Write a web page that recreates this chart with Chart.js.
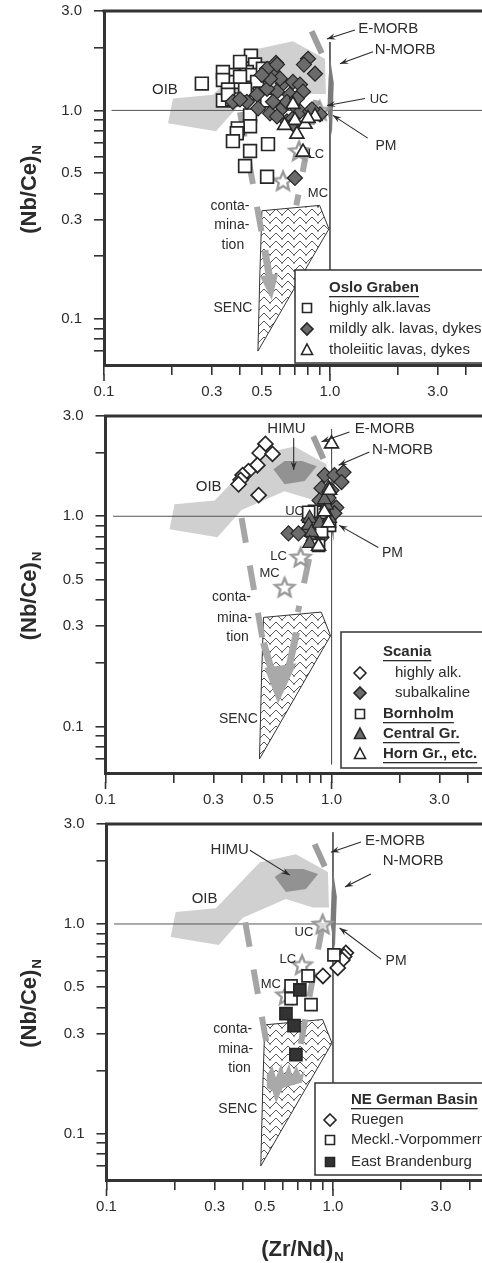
<!DOCTYPE html>
<html>
<head>
<meta charset="utf-8">
<script src="https://cdn.jsdelivr.net/npm/chart.js@4.4.0/dist/chart.umd.min.js"></script>
<style>
html, body { margin: 0; padding: 0; background: #fff; }
#wrap { position: relative; width: 482px; height: 1263px; overflow: hidden; }
canvas { position: absolute; left: 0; }
</style>
</head>
<body>
<div id="wrap">
  <canvas id="osloChart" width="482" height="405" style="top:0px"></canvas>
  <canvas id="scaniaChart" width="482" height="408" style="top:405px"></canvas>
  <canvas id="germanChart" width="482" height="450" style="top:813px"></canvas>
</div>
<script>
// axis ticks
const xTicks = [0.1, 0.2, 0.3, 0.4, 0.5, 0.6, 0.7, 0.8, 0.9, 1, 2, 3, 4];
const yTicks = [0.07, 0.08, 0.09, 0.1, 0.2, 0.3, 0.4, 0.5, 0.6, 0.7, 0.8, 0.9, 1, 2, 3];
const xTickLabels = [0.1, 0.3, 0.5, 1, 3];
const yTickLabels = [0.1, 0.3, 0.5, 1, 3];

// reference fields, x = (Zr/Nd)N, y = (Nb/Ce)N
const oibField = [[0.192, 0.867], [0.202, 1.14], [0.304, 1.19], [0.476, 1.97], [0.686, 2.15], [0.95, 1.77],
  [0.96, 1.2], [0.816, 1.2], [0.619, 1.315], [0.40, 1.07], [0.313, 0.794]];
const himuField = [[0.553, 1.675], [0.62, 1.83], [0.74, 1.83], [0.86, 1.73], [0.76, 1.47], [0.62, 1.42]];
const nMorbField = [[1.0, 1.8], [1.04, 1.35], [1.02, 0.76], [0.975, 1.0], [0.985, 1.4]];
const eMorbBar = [[0.83, 2.4], [0.92, 1.88]];
const sencField = [[0.50, 0.33], [0.90, 0.35], [0.99, 0.27], [0.48, 0.07], [0.49, 0.17]];
const crustStars = [[0.9, 1.0], [0.73, 0.64], [0.62, 0.46]]; // UC, LC, MC
const unityH = [[0.108, 1], [6, 1]];

// Oslo Graben
const osloHighlyAlk = [[0.271, 1.345], [0.447, 1.83], [0.466, 1.66], [0.372, 1.48], [0.372, 1.37], [0.429, 1.53],
  [0.452, 1.48], [0.476, 1.37], [0.505, 1.585], [0.527, 1.48], [0.336, 1.53], [0.336, 1.40], [0.40, 1.71],
  [0.421, 1.26], [0.49, 1.205], [0.336, 1.116], [0.369, 1.13], [0.527, 1.116], [0.443, 0.947], [0.443, 0.839],
  [0.391, 0.82], [0.387, 0.777], [0.372, 0.712], [0.532, 0.689], [0.443, 0.638], [0.421, 0.541], [0.527, 0.48],
  [0.40, 1.45], [0.354, 1.26], [0.354, 1.19]];
const osloMildlyAlk = [[0.577, 1.69], [0.80, 1.77], [0.767, 1.66], [0.859, 1.50], [0.56, 1.53], [0.619, 1.345],
  [0.686, 1.37], [0.737, 1.33], [0.76, 1.23], [0.665, 1.19], [0.583, 1.23], [0.527, 1.27], [0.476, 1.19],
  [0.429, 1.10], [0.372, 1.10], [0.40, 1.13], [0.481, 1.022], [0.543, 0.968], [0.583, 0.936], [0.645, 0.886],
  [0.686, 0.916], [0.737, 0.989], [0.816, 0.989], [0.903, 0.957], [0.619, 1.033], [0.686, 1.068], [0.645, 1.10],
  [0.56, 1.10], [0.714, 1.14], [0.601, 1.42], [0.543, 1.42], [0.527, 1.585], [0.50, 1.48], [0.583, 1.66],
  [0.686, 0.858], [0.833, 1.011], [0.70, 0.474]];
const osloTholeiitic = [[0.686, 1.068], [0.70, 0.896], [0.776, 0.858], [0.859, 0.936], [0.714, 0.769],
  [0.76, 0.631], [0.80, 0.916], [0.63, 0.848]];
const osloContam = [[[0.40, 0.98], [0.505, 0.24]], [[0.87, 1.12], [0.71, 0.35]]];
const osloShafts = [[[0.515, 0.213], [0.545, 0.15]]];
const osloHead = [[0.49, 0.16], [0.59, 0.165], [0.553, 0.123]];
const osloUnityV = [[1, 2.13], [1, 0.065]];

// Scania, Bornholm, Central Gr., Horn Gr.
const scaniaHighlyAlk = [[0.51, 2.21], [0.481, 2.0], [0.548, 1.98], [0.47, 1.75], [0.429, 1.64], [0.404, 1.57],
  [0.396, 1.49], [0.388, 1.42], [0.476, 1.26]];
const scaniaSubalk = [[0.932, 1.57], [1.03, 1.57], [1.13, 1.62], [1.107, 1.455], [0.903, 1.36], [1.0, 1.33],
  [0.885, 1.19], [0.97, 1.22], [1.05, 1.10], [1.03, 1.034], [0.84, 0.978], [0.792, 0.957], [0.903, 1.068],
  [0.833, 0.886], [0.776, 0.857], [0.645, 0.829], [0.714, 0.829], [0.903, 0.794], [0.833, 0.768], [0.932, 0.886],
  [0.876, 0.829]];
const bornholm = [[0.84, 1.056], [0.922, 1.045], [0.98, 0.905], [0.903, 0.848], [0.876, 0.727], [0.792, 1.045]];
const centralGr = [[0.97, 1.36], [0.95, 1.129], [0.80, 0.978], [0.792, 0.905], [0.816, 0.838], [0.80, 0.743],
  [0.885, 0.926], [0.98, 0.978], [0.93, 1.2]];
const hornGr = [[1.0, 2.21], [0.98, 1.33], [0.876, 0.72], [0.97, 0.93], [0.93, 1.05]];
const scaniaContam = [[[0.40, 0.98], [0.505, 0.23]], [[0.88, 1.05], [0.71, 0.35]]];
const scaniaShafts = [[[0.50, 0.25], [0.555, 0.17]], [[0.70, 0.28], [0.64, 0.18]]];
const scaniaHead = [[0.505, 0.19], [0.70, 0.20], [0.58, 0.128]];
const scaniaUnityV = [[1, 2.6], [1, 0.066]];

// NE German Basin
const ruegen = [[1.14, 0.728], [1.12, 0.70], [1.10, 0.674], [1.05, 0.617], [0.903, 0.565]];
const mecklVorpommern = [[1.01, 0.712], [0.776, 0.565], [0.653, 0.506], [0.653, 0.44], [0.80, 0.412]];
const eastBrandenburg = [[0.714, 0.485], [0.62, 0.373], [0.673, 0.327], [0.686, 0.238]];
const germanContam = [[[0.41, 1.02], [0.515, 0.25]], [[0.90, 0.99], [0.71, 0.245]]];
const germanShafts = [];
const germanHead = [[0.51, 0.19], [0.54, 0.21], [0.56, 0.185], [0.59, 0.215], [0.61, 0.19], [0.64, 0.215],
  [0.66, 0.19], [0.69, 0.21], [0.72, 0.19], [0.75, 0.2], [0.73, 0.175], [0.66, 0.17], [0.6, 0.165],
  [0.56, 0.14], [0.54, 0.16], [0.51, 0.165]];
const germanUnityV = [[1, 2.74], [1, 0.065]];

// annotation texts [text, x, y] and arrows [x1, y1, x2, y2], in data units
const osloLabels = [['E-MORB', 1.81, 2.46], ['N-MORB', 2.15, 1.95], ['OIB', 0.186, 1.26], ['UC', 1.65, 1.128],
  ['PM', 1.77, 0.674], ['LC', 0.867, 0.617], ['MC', 0.885, 0.40], ['conta-', 0.361, 0.349],
  ['mina-', 0.368, 0.281], ['tion', 0.372, 0.225], ['SENC', 0.372, 0.113]];
const osloArrows = [[1.29, 2.43, 0.97, 2.2], [1.55, 1.91, 1.107, 1.675], [1.43, 1.14, 0.97, 1.056],
  [1.47, 0.736, 1.03, 0.947]];
const scaniaLabels = [['E-MORB', 1.72, 2.6], ['N-MORB', 2.06, 2.07], ['HIMU', 0.632, 2.6], ['OIB', 0.286, 1.376],
  ['UC', 0.686, 1.056], ['PM', 1.86, 0.67], ['LC', 0.583, 0.644], ['MC', 0.532, 0.534],
  ['conta-', 0.361, 0.41], ['mina-', 0.372, 0.329], ['tion', 0.384, 0.267], ['SENC', 0.387, 0.108]];
const scaniaArrows = [[1.20, 2.52, 0.903, 2.26], [1.47, 2.02, 1.074, 1.75], [1.61, 0.71, 1.08, 0.905],
  [0.68, 2.36, 0.68, 1.66]];
const germanLabels = [['E-MORB', 1.88, 2.48], ['N-MORB', 2.26, 1.995], ['HIMU', 0.35, 2.27], ['OIB', 0.271, 1.315],
  ['UC', 0.744, 0.916], ['PM', 1.9, 0.667], ['LC', 0.632, 0.674], ['MC', 0.532, 0.512],
  ['conta-', 0.361, 0.316], ['mina-', 0.372, 0.254], ['tion', 0.387, 0.204], ['SENC', 0.38, 0.131]];
const germanArrows = [[1.33, 2.46, 0.98, 2.2], [1.47, 1.73, 1.13, 1.5], [1.63, 0.68, 1.07, 0.957],
  [0.43, 2.25, 0.645, 1.71]];

const FONT = '"Liberation Sans", Arial, sans-serif';
const INK = '#2b2b2b';
const labelSize = { 'UC': 13, 'LC': 13, 'MC': 13, 'PM': 14, 'conta-': 14, 'mina-': 14, 'tion': 14, 'SENC': 14 };

function toXY(arr) { return arr.map(p => ({ x: p[0], y: p[1] })); }
function closed(arr) { return toXY(arr.concat([arr[0]])); }

function makeStar(r) {
  const c = document.createElement('canvas');
  const size = Math.ceil(r * 2 + 6);
  c.width = c.height = size;
  const g = c.getContext('2d');
  g.beginPath();
  for (let i = 0; i < 10; i++) {
    const a = -Math.PI / 2 + i * Math.PI / 5;
    const rr = i % 2 ? r * 0.45 : r;
    g.lineTo(size / 2 + rr * Math.cos(a), size / 2 + 1 + rr * Math.sin(a));
  }
  g.closePath();
  g.fillStyle = 'rgba(255,255,255,0.55)';
  g.fill();
  g.lineWidth = 2.4;
  g.strokeStyle = '#9a9a9a';
  g.stroke();
  return c;
}

function makeHatch(ctx) {
  const c = document.createElement('canvas');
  c.width = 12; c.height = 8;
  const g = c.getContext('2d');
  g.fillStyle = '#fff';
  g.fillRect(0, 0, 12, 8);
  g.strokeStyle = '#444';
  g.lineWidth = 0.9;
  g.beginPath();
  g.moveTo(0, 1); g.lineTo(6, 7); g.lineTo(12, 1);
  g.moveTo(6, 7); g.lineTo(6, 8);
  g.stroke();
  return ctx.createPattern(c, 'repeat');
}

const starImg = makeStar(10);

function shape(arr, fillColor, order, border) {
  return { type: 'line', data: closed(arr), fill: 'shape', backgroundColor: fillColor,
    borderColor: border || 'rgba(0,0,0,0)', borderWidth: border ? 1 : 0, pointRadius: 0, tension: 0, order: order };
}
function path(arr, color, width, order, dash) {
  return { type: 'line', data: toXY(arr), fill: false, borderColor: color, borderWidth: width,
    borderDash: dash || [], borderCapStyle: 'butt', pointRadius: 0, tension: 0, order: order };
}
function marks(arr, style, fill, radius, order, bw) {
  return { type: 'scatter', data: toXY(arr), pointStyle: style, backgroundColor: fill, borderColor: '#262626',
    borderWidth: bw || 1.7, pointRadius: radius, order: order };
}

function drawMarker(ctx, kind, x, y) {
  ctx.save();
  ctx.lineWidth = 1.6;
  ctx.strokeStyle = '#262626';
  ctx.beginPath();
  if (kind.indexOf('square') === 0) ctx.rect(x - 4.5, y - 4.5, 9, 9);
  else if (kind.indexOf('diamond') === 0) { ctx.moveTo(x, y - 6); ctx.lineTo(x + 6, y); ctx.lineTo(x, y + 6); ctx.lineTo(x - 6, y); ctx.closePath(); }
  else { ctx.moveTo(x, y - 6); ctx.lineTo(x + 5.5, y + 4.5); ctx.lineTo(x - 5.5, y + 4.5); ctx.closePath(); }
  ctx.fillStyle = kind === 'squareFill' ? '#333' : (kind === 'diamond' || kind === 'triangleFill') ? '#6b6b6b' : '#fff';
  ctx.fill();
  ctx.stroke();
  ctx.restore();
}

function drawArrow(ctx, x1, y1, x2, y2) {
  const ang = Math.atan2(y2 - y1, x2 - x1), h = 9;
  ctx.beginPath();
  ctx.moveTo(x1, y1); ctx.lineTo(x2, y2);
  ctx.stroke();
  ctx.beginPath();
  ctx.moveTo(x2, y2);
  ctx.lineTo(x2 - h * Math.cos(ang - 0.35), y2 - h * Math.sin(ang - 0.35));
  ctx.lineTo(x2 - h * 0.6 * Math.cos(ang), y2 - h * 0.6 * Math.sin(ang));
  ctx.lineTo(x2 - h * Math.cos(ang + 0.35), y2 - h * Math.sin(ang + 0.35));
  ctx.closePath();
  ctx.fill();
}

// legends, in canvas pixels
const legends = {
  osloChart: { box: [295, 270, 200, 93], title: ['Oslo Graben', 329, 288],
    rows: [['square', 'highly alk.lavas', 307, 329, 308, false], ['diamond', 'mildly alk. lavas, dykes', 307, 329, 329, false],
      ['triangle', 'tholeiitic lavas, dykes', 307, 329, 350, false]] },
  scaniaChart: { box: [341, 227, 150, 136], title: ['Scania', 383, 247],
    rows: [['diamondOpen', 'highly alk.', 360, 395, 268, false], ['diamond', 'subalkaline', 360, 395, 288, false],
      ['square', 'Bornholm', 360, 383, 309, true], ['triangleFill', 'Central Gr.', 360, 383, 329, true],
      ['triangle', 'Horn Gr., etc.', 360, 383, 349, true]] },
  germanChart: { box: [315, 270, 180, 92], title: ['NE German Basin', 351, 287],
    rows: [['diamondOpen', 'Ruegen', 330, 351, 307, false], ['square', 'Meckl.-Vorpommern', 330, 351, 327, false],
      ['squareFill', 'East Brandenburg', 330, 351, 349, false]] }
};
const annotations = {
  osloChart: { labels: osloLabels, arrows: osloArrows },
  scaniaChart: { labels: scaniaLabels, arrows: scaniaArrows },
  germanChart: { labels: germanLabels, arrows: germanArrows, xTitle: true }
};

function boldUnderlined(ctx, text, x, y) {
  ctx.font = 'bold 15px ' + FONT;
  ctx.fillText(text, x, y);
  const w = ctx.measureText(text).width;
  ctx.fillRect(x, y + 8, w, 1.3);
}

const decorPlugin = {
  id: 'decor',
  afterDraw(chart) {
    const ctx = chart.ctx, xs = chart.scales.x, ys = chart.scales.y, a = chart.chartArea;
    const id = chart.canvas.id, ann = annotations[id], leg = legends[id];
    ctx.save();
    ctx.strokeStyle = '#333';
    ctx.fillStyle = '#333';
    // top frame
    ctx.lineWidth = 3;
    ctx.beginPath(); ctx.moveTo(a.left - 1.5, a.top); ctx.lineTo(a.right + 2, a.top); ctx.stroke();
    // longer ticks at 0.1 and 1.0
    ctx.lineWidth = 1.6;
    [0.1, 1].forEach(v => {
      const px = xs.getPixelForValue(v);
      ctx.beginPath(); ctx.moveTo(px, a.bottom + 9); ctx.lineTo(px, a.bottom + 16); ctx.stroke();
    });
    // arrows
    ctx.lineWidth = 1.1;
    ctx.strokeStyle = INK; ctx.fillStyle = INK;
    ann.arrows.forEach(r => drawArrow(ctx, xs.getPixelForValue(r[0]), ys.getPixelForValue(r[1]),
      xs.getPixelForValue(r[2]), ys.getPixelForValue(r[3])));
    // labels
    ctx.textAlign = 'center';
    ctx.textBaseline = 'middle';
    ann.labels.forEach(l => {
      ctx.font = (labelSize[l[0]] || 15) + 'px ' + FONT;
      ctx.fillText(l[0], xs.getPixelForValue(l[1]), ys.getPixelForValue(l[2]));
    });
    // legend
    const b = leg.box;
    ctx.fillStyle = '#fff';
    ctx.fillRect(b[0], b[1], b[2], b[3]);
    ctx.lineWidth = 1.5;
    ctx.strokeStyle = '#333';
    ctx.strokeRect(b[0], b[1], b[2], b[3]);
    ctx.fillStyle = INK;
    ctx.textAlign = 'left';
    boldUnderlined(ctx, leg.title[0], leg.title[1], leg.title[2]);
    leg.rows.forEach(r => {
      drawMarker(ctx, r[0], r[2], r[4]);
      ctx.fillStyle = INK;
      if (r[5]) boldUnderlined(ctx, r[1], r[3], r[4]);
      else { ctx.font = '15px ' + FONT; ctx.fillText(r[1], r[3], r[4]); }
    });
    // y title
    ctx.save();
    ctx.translate(36, (a.top + a.bottom) / 2 + 2);
    ctx.rotate(-Math.PI / 2);
    ctx.textBaseline = 'alphabetic';
    ctx.font = 'bold 22px ' + FONT;
    const w1 = ctx.measureText('(Nb/Ce)').width;
    ctx.font = 'bold 13px ' + FONT;
    const w2 = ctx.measureText('N').width;
    const s = -(w1 + w2) / 2;
    ctx.font = 'bold 22px ' + FONT;
    ctx.fillText('(Nb/Ce)', s, 0);
    ctx.font = 'bold 13px ' + FONT;
    ctx.fillText('N', s + w1 + 1, 5);
    ctx.restore();
    // x title
    if (ann.xTitle) {
      ctx.textBaseline = 'alphabetic';
      ctx.font = 'bold 22px ' + FONT;
      const t1 = ctx.measureText('(Zr/Nd)').width;
      ctx.font = 'bold 13px ' + FONT;
      const t2 = ctx.measureText('N').width;
      const sx = 302 - (t1 + t2) / 2;
      ctx.font = 'bold 22px ' + FONT;
      ctx.fillText('(Zr/Nd)', sx, 443);
      ctx.font = 'bold 13px ' + FONT;
      ctx.fillText('N', sx + t1 + 1, 448);
    }
    ctx.restore();
  }
};

function fieldSets(ctx, p) {
  const sets = [shape(oibField, '#d0d0d0', 40)];
  if (p.himu) sets.push(shape(himuField, '#929292', 39));
  sets.push(shape(sencField, makeHatch(ctx), 38, '#333'));
  sets.push(path(eMorbBar, '#9d9d9d', 6, 36));
  sets.push(path(unityH, '#555', 1, 35));
  sets.push(path(p.unityV, '#555', 1, 35));
  sets.push(shape(nMorbField, '#7b7b7b', 34));
  p.contam.forEach(c => sets.push(path(c, '#a6a6a6', 6, 34, [25, 23])));
  p.shafts.forEach(c => sets.push(path(c, '#a9a9a9', 7, 33)));
  sets.push(shape(p.head, '#a9a9a9', 33));
  sets.push({ type: 'scatter', data: toXY(crustStars), pointStyle: starImg, pointRadius: 10, order: 30 });
  return sets;
}

function buildChart(id, p) {
  const canvas = document.getElementById(id);
  const ctx = canvas.getContext('2d');
  const tickFont = { family: FONT, size: 15 };
  return new Chart(ctx, {
    type: 'scatter',
    data: { datasets: fieldSets(ctx, p).concat(p.points) },
    options: {
      responsive: false,
      animation: false,
      events: [],
      devicePixelRatio: 1,
      layout: { autoPadding: false, padding: { left: 0, right: 0, top: 11, bottom: 0 } },
      plugins: { legend: { display: false }, tooltip: { enabled: false } },
      scales: {
        x: {
          type: 'logarithmic', min: 0.1, max: p.xMax,
          afterBuildTicks: s => { s.ticks = xTicks.map(v => ({ value: v })); },
          afterFit: s => { s.height = p.xHeight; s.paddingLeft = 0; s.paddingRight = 0; },
          ticks: { callback: v => xTickLabels.includes(v) ? v.toFixed(1) : '', font: tickFont, color: INK,
            padding: 8, autoSkip: false, maxRotation: 0, minRotation: 0 },
          grid: { drawOnChartArea: false, drawTicks: true, tickLength: 10, color: '#333', lineWidth: 1.6 },
          border: { display: true, color: '#333', width: 3 }
        },
        y: {
          type: 'logarithmic', min: 0.06, max: 3.0,
          afterBuildTicks: s => { s.ticks = yTicks.map(v => ({ value: v })); },
          afterFit: s => { s.width = p.left; s.paddingTop = 0; s.paddingBottom = 0; },
          ticks: { callback: v => yTickLabels.includes(v) ? v.toFixed(1) : '', font: tickFont, color: INK,
            padding: 12, autoSkip: false },
          grid: { drawOnChartArea: false, drawTicks: true, tickLength: 10, color: '#333', lineWidth: 1.6 },
          border: { display: true, color: '#333', width: 3 }
        }
      }
    },
    plugins: [decorPlugin]
  });
}

// Oslo Graben
buildChart('osloChart', {
  xMax: 4.71, left: 104, xHeight: 40, himu: false,
  unityV: osloUnityV, contam: osloContam, shafts: osloShafts, head: osloHead,
  points: [
    marks(osloHighlyAlk, 'rect', '#fff', 9, 5),
    marks(osloMildlyAlk, 'rectRot', '#6b6b6b', 7.5, 4, 1.2),
    marks(osloTholeiitic, 'triangle', '#fff', 8, 3)
  ]
});

// Scania etc.
buildChart('scaniaChart', {
  xMax: 4.63, left: 105.5, xHeight: 40, himu: true,
  unityV: scaniaUnityV, contam: scaniaContam, shafts: scaniaShafts, head: scaniaHead,
  points: [
    marks(scaniaHighlyAlk, 'rectRot', '#fff', 7.5, 5),
    marks(scaniaSubalk, 'rectRot', '#6b6b6b', 7.5, 4, 1.2),
    marks(bornholm, 'rect', '#fff', 8.5, 3),
    marks(centralGr, 'triangle', '#6b6b6b', 8, 2, 1.2),
    marks(hornGr, 'triangle', '#fff', 8, 1)
  ]
});

// NE German Basin
buildChart('germanChart', {
  xMax: 4.55, left: 106.5, xHeight: 83, himu: true,
  unityV: germanUnityV, contam: germanContam, shafts: germanShafts, head: germanHead,
  points: [
    marks(ruegen, 'rectRot', '#fff', 7.5, 3),
    marks(mecklVorpommern, 'rect', '#fff', 8.5, 2),
    marks(eastBrandenburg, 'rect', '#333', 8.5, 1)
  ]
});
</script>
</body>
</html>
